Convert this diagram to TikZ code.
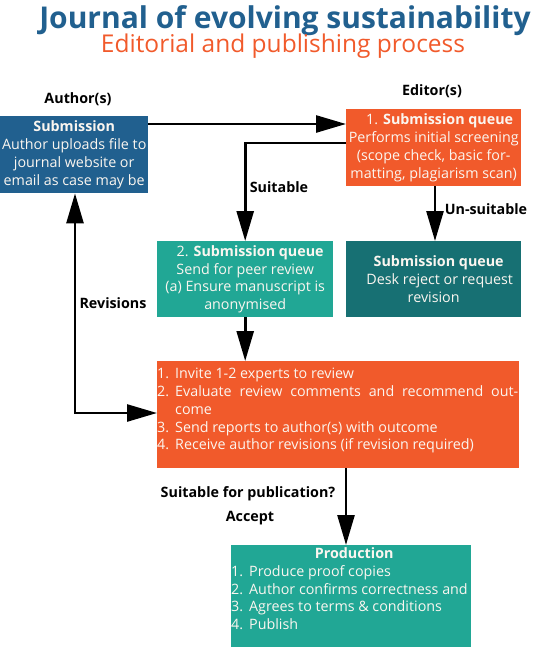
\documentclass[tikz,border=0pt]{standalone}
\usepackage{fontspec}
\setmainfont{Open Sans}
\usetikzlibrary{arrows.meta,calc}
\definecolor{jblue}{HTML}{21608F}
\definecolor{jorange}{HTML}{F15A2B}
\definecolor{jteal}{HTML}{21A795}
\definecolor{jdteal}{HTML}{177073}
\definecolor{boxtext}{HTML}{FBF6F0}
\newcommand{\bodyfont}{\fontsize{14.3pt}{17.8pt}\selectfont}
\newcommand{\lblfont}{\fontsize{14.3pt}{16pt}\selectfont\bfseries}
\newcommand{\itm}[2]{\makebox[18pt][l]{#1}#2}
\begin{document}
\begin{tikzpicture}[x=1pt,y=-1pt,
  box/.style={inner sep=0pt, anchor=north west, align=center, text=boxtext, font=\bodyfont},
  listtext/.style={inner sep=0pt, anchor=north west, align=left, text=boxtext, font=\bodyfont},
  lbl/.style={inner sep=0pt, font=\lblfont, text=black},
  arr/.style={line width=2.6pt, -{Triangle[length=30pt,width=17pt]}},
  arrboth/.style={line width=2.6pt, {Triangle[length=30pt,width=17pt]}-{Triangle[length=30pt,width=17pt]}}]
\useasboundingbox (0,0) rectangle (533,654);

% titles
\node[inner sep=0pt, anchor=base, text=jblue, font=\fontsize{30pt}{34pt}\selectfont\bfseries] (title) at (285,28) {Journal of evolving sustainability};
\node[inner sep=0pt, anchor=base, text=jorange, font=\fontsize{24.5pt}{28pt}\selectfont] (subtitle) at (283,52) {Editorial and publishing process};

% boxes
\node[box, fill=jblue, minimum width=148pt, minimum height=77pt] (sub) at (0,116)
  {\textbf{Submission}\\Author uploads file to\\journal website or\\email as case may be};
\node[box, fill=jorange, minimum width=175pt, minimum height=77pt] (ed1) at (346,109)
  {\hspace*{12pt}1. \textbf{Submission queue}\\Performs initial screening\\(scope check, basic for-\\matting, plagiarism scan)};
\node[box, fill=jteal, minimum width=176pt, minimum height=76pt] (teal2) at (157,241)
  {\hspace*{10pt}2. \textbf{Submission queue}\\Send for peer review\\(a) Ensure manuscript is\\anonymised};
\node[box, fill=jdteal, minimum width=175pt, minimum height=76pt] (dteal) at (346,241)
  {\hspace*{10pt}\textbf{Submission queue}\\\hspace*{12pt}Desk reject or request\\revision};
\node[box, fill=jorange, minimum width=362pt, minimum height=107pt] (big) at (157,361) {};
\node[listtext] (bigtext) at (157,368)
  {\itm{1.}{Invite 1-2 experts to review}\\
   \itm{2.}{\makebox[343pt][s]{Evaluate review comments and recommend out-}}\\
   \hspace*{18pt}come\\
   \itm{3.}{Send reports to author(s) with outcome}\\
   \itm{4.}{Receive author revisions (if revision required)}};
\node[box, fill=jteal, minimum width=240pt, minimum height=102pt] (prod) at (231,545) {};
\node[listtext] (prodtext) at (231,547.5)
  {\makebox[246pt][c]{\textbf{Production}}\\
   \itm{1.}{Produce proof copies}\\
   \itm{2.}{Author confirms correctness and}\\
   \itm{3.}{Agrees to terms \& conditions}\\
   \itm{4.}{Publish}};

% labels
\node[lbl] (lauth) at (78,99) {Author(s)};
\node[lbl] (ledit) at (432,91) {Editor(s)};
\node[lbl] (lsuit) at (279,187) {Suitable};
\node[lbl] (lunsuit) at (486,209) {Un-suitable};
\node[lbl] (lrev) at (113,303) {Revisions};
\node[lbl] (lpub) at (248,494) {Suitable for publication?};
\node[lbl] (lacc) at (250,518) {Accept};

% connectors
\draw[arr] (sub.east |- 0,124) -- (ed1.west |- 0,124);
\draw[arr] (ed1.west |- 0,143) -| (teal2.north);
\draw[arr] (ed1.south -| 435,0) -- (dteal.north -| 435,0);
\draw[arr] (teal2.south) -- (teal2.south |- big.north);
\draw[arrboth] (sub.south -| 75,0) |- (big.west |- 0,413);
\draw[arr] (big.south -| 346,0) -- (prod.north -| 346,0);
\end{tikzpicture}
\end{document}
